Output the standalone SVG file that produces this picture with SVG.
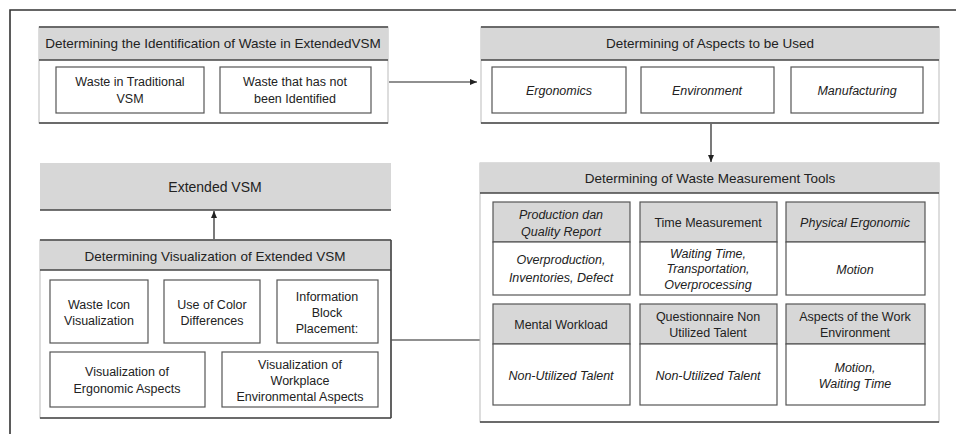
<svg xmlns="http://www.w3.org/2000/svg" width="956" height="434" viewBox="0 0 956 434">
<defs>
<marker id="ah" markerWidth="8" markerHeight="8" refX="7" refY="4" orient="auto" markerUnits="userSpaceOnUse">
<path d="M0,1 L7,4 L0,7 Z" fill="#222"/>
</marker>
<style>
text{font-family:"Liberation Sans",Arial,sans-serif;fill:#222;text-anchor:middle}
.ht{font-size:13.5px}
.t{font-size:12.5px}
.i{font-style:italic}
.cont{fill:#fff;stroke:#bbb;stroke-width:1}
.hd{fill:#d7d7d7;stroke:none}
.dk{stroke:#444;stroke-width:1.6;fill:none}
.bx{fill:#fff;stroke:#555;stroke-width:1.2}
.ch{fill:#d7d7d7;stroke:#555;stroke-width:1.2}
.conn{stroke:#222;stroke-width:1.2;fill:none}
</style>
</defs>
<rect width="956" height="434" fill="#fff"/>
<path d="M10,434 V10 H956" fill="none" stroke="#333" stroke-width="1.6"/>

<g id="connectors">
<line class="conn" x1="389" y1="82" x2="477" y2="82" marker-end="url(#ah)"/>
<line class="conn" x1="711" y1="124" x2="711" y2="162" marker-end="url(#ah)"/>
<line class="conn" x1="214" y1="239" x2="214" y2="211" marker-end="url(#ah)"/>
<line class="conn" x1="391" y1="340" x2="480" y2="340"/>
</g>

<g id="identification">
<rect class="cont" x="39" y="27" width="349" height="96"/>
<rect class="hd" x="39" y="27" width="349" height="33"/>
<line class="dk" x1="39" y1="27" x2="388" y2="27"/>
<line class="dk" x1="39" y1="60" x2="388" y2="60"/>
<line class="dk" x1="39" y1="123" x2="388" y2="123" stroke="#777"/>
<text class="ht" x="213" y="48">Determining the Identification of Waste in ExtendedVSM</text>
<rect class="bx" x="56" y="67" width="148" height="46"/>
<text class="t" x="130" y="86">Waste in Traditional</text>
<text class="t" x="130" y="103">VSM</text>
<rect class="bx" x="220" y="67" width="151" height="46"/>
<text class="t" x="295" y="86">Waste that has not</text>
<text class="t" x="295" y="103">been Identified</text>
</g>

<g id="aspects">
<rect class="cont" x="481" y="27" width="458" height="96"/>
<rect class="hd" x="481" y="27" width="458" height="33"/>
<line class="dk" x1="481" y1="27" x2="939" y2="27"/>
<line class="dk" x1="481" y1="60" x2="939" y2="60"/>
<line class="dk" x1="481" y1="123" x2="939" y2="123" stroke="#777"/>
<text class="ht" x="710" y="48">Determining of Aspects to be Used</text>
<rect class="bx" x="492" y="67" width="134" height="46"/>
<text class="t i" x="559" y="95">Ergonomics</text>
<rect class="bx" x="641" y="67" width="133" height="46"/>
<text class="t i" x="707" y="95">Environment</text>
<rect class="bx" x="791" y="67" width="132" height="46"/>
<text class="t i" x="857" y="95">Manufacturing</text>
</g>

<g id="extended-vsm">
<rect class="hd" x="40" y="163" width="351" height="47" stroke="#ccc"/>
<line class="dk" x1="40" y1="210" x2="391" y2="210"/>
<text x="215" y="192" style="font-size:14px">Extended VSM</text>
</g>

<g id="visualization">
<rect class="cont" x="40" y="240" width="351" height="178"/>
<rect class="hd" x="40" y="240" width="351" height="30"/>
<line class="dk" x1="40" y1="240" x2="391" y2="240"/>
<line class="dk" x1="40" y1="270" x2="391" y2="270"/>
<line class="dk" x1="40" y1="418" x2="391" y2="418" stroke="#777"/>
<line class="dk" x1="391" y1="240" x2="391" y2="418"/>
<text class="ht" x="215" y="261">Determining Visualization of Extended VSM</text>
<rect class="bx" x="50" y="280" width="98" height="63"/>
<text class="t" x="99" y="309">Waste Icon</text>
<text class="t" x="99" y="325">Visualization</text>
<rect class="bx" x="164" y="280" width="96" height="63"/>
<text class="t" x="212" y="309">Use of Color</text>
<text class="t" x="212" y="325">Differences</text>
<rect class="bx" x="277" y="280" width="101" height="63"/>
<text class="t" x="327" y="301">Information</text>
<text class="t" x="327" y="317">Block</text>
<text class="t" x="327" y="333">Placement:</text>
<rect class="bx" x="50" y="352" width="155" height="55"/>
<text class="t" x="127" y="376">Visualization of</text>
<text class="t" x="127" y="393">Ergonomic Aspects</text>
<rect class="bx" x="222" y="352" width="156" height="55"/>
<text class="t" x="300" y="369">Visualization of</text>
<text class="t" x="300" y="385">Workplace</text>
<text class="t" x="300" y="401">Environmental Aspects</text>
</g>

<g id="measurement-tools">
<rect class="cont" x="480" y="163" width="459" height="259"/>
<rect class="hd" x="480" y="163" width="459" height="30"/>
<line class="dk" x1="480" y1="193" x2="939" y2="193"/>
<line class="dk" x1="480" y1="422" x2="939" y2="422"/>
<text class="ht" x="710" y="183">Determining of Waste Measurement Tools</text>

<rect class="ch" x="493" y="202" width="137" height="40"/>
<rect class="bx" x="493" y="242" width="137" height="53"/>
<text class="t i" x="561" y="219">Production dan</text>
<text class="t i" x="561" y="236">Quality Report</text>
<text class="t i" x="561" y="264">Overproduction,</text>
<text class="t i" x="561" y="282">Inventories, Defect</text>

<rect class="ch" x="640" y="202" width="137" height="40"/>
<rect class="bx" x="640" y="242" width="137" height="53"/>
<text class="t" x="708" y="227">Time Measurement</text>
<text class="t i" x="708" y="258">Waiting Time,</text>
<text class="t i" x="708" y="273">Transportation,</text>
<text class="t i" x="708" y="289">Overprocessing</text>

<rect class="ch" x="786" y="202" width="139" height="40"/>
<rect class="bx" x="786" y="242" width="139" height="53"/>
<text class="t i" x="855" y="227">Physical Ergonomic</text>
<text class="t i" x="855" y="274">Motion</text>

<rect class="ch" x="493" y="304" width="137" height="40"/>
<rect class="bx" x="493" y="344" width="137" height="61"/>
<text class="t" x="561" y="329">Mental Workload</text>
<text class="t i" x="561" y="380">Non-Utilized Talent</text>

<rect class="ch" x="640" y="304" width="137" height="40"/>
<rect class="bx" x="640" y="344" width="137" height="61"/>
<text class="t" x="708" y="321">Questionnaire Non</text>
<text class="t" x="708" y="337">Utilized Talent</text>
<text class="t i" x="708" y="380">Non-Utilized Talent</text>

<rect class="ch" x="786" y="304" width="139" height="40"/>
<rect class="bx" x="786" y="344" width="139" height="61"/>
<text class="t" x="855" y="321">Aspects of the Work</text>
<text class="t" x="855" y="337">Environment</text>
<text class="t i" x="855" y="372">Motion,</text>
<text class="t i" x="855" y="388">Waiting Time</text>
</g>
</svg>
